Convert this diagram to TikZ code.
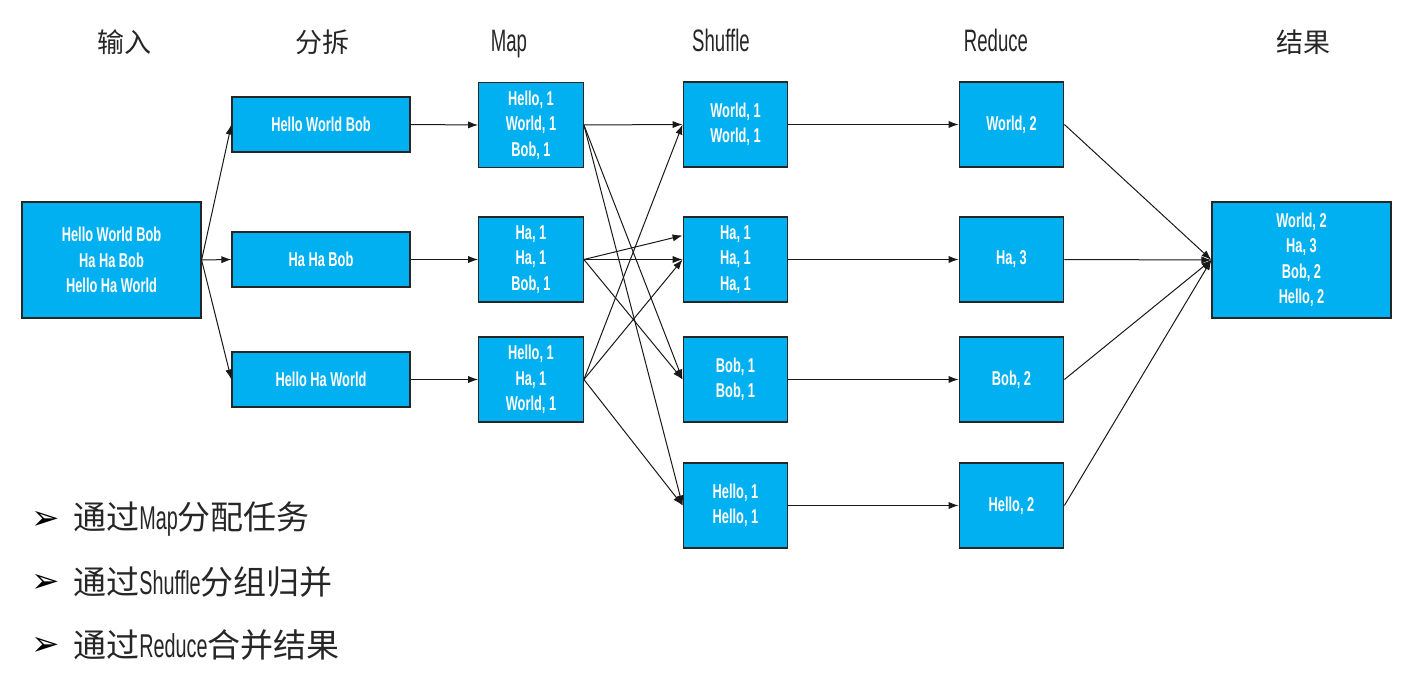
\documentclass[tikz,border=0pt]{standalone}
\usepackage{fontspec}
\setmainfont{Liberation Sans}
\newfontfamily\cjk{Noto Sans CJK SC}
\newfontfamily\condb[FakeStretch=0.64]{Liberation Sans Bold}
\newfontfamily\condl[FakeStretch=0.6]{Liberation Sans}
\newfontfamily\dejavu{DejaVu Sans}
\usetikzlibrary{arrows.meta}
\definecolor{boxblue}{HTML}{00B0F0}
\definecolor{txtgrey}{HTML}{262626}
\tikzset{
  box/.style={draw=black!85, line width=0.6pt, fill=boxblue, text=white, align=center,
    inner sep=0pt, font=\condb\fontsize{10}{12.75}\selectfont},
  inbox/.style={box, minimum width=89.5pt, minimum height=58pt},
  splitbox/.style={box, minimum width=89pt, minimum height=27.5pt},
  smallbox/.style={box, minimum width=52.3pt, minimum height=42.5pt},
  head/.style={anchor=base, font=\condl\fontsize{15.5}{16}\selectfont, text=txtgrey, inner sep=0pt},
  headcn/.style={anchor=base, font=\cjk\fontsize{13.5}{16}\selectfont, text=txtgrey, inner sep=0pt},
  conn/.style={draw=black!90, line width=0.5pt, -{Latex[length=5pt,width=3.6pt]}},
  bullet/.style={anchor=west, inner sep=0pt, text=txtgrey, font=\fontsize{16.5}{18}\selectfont},
  bmark/.style={inner sep=0pt, font=\dejavu\fontsize{17}{18}\selectfont}
}
\begin{document}
\begin{tikzpicture}[x=0.5pt,y=-0.5pt]
\useasboundingbox (0,0) rectangle (1409,673);
% headers
\node[headcn] (h1) at (124,53) {输入};
\node[headcn] (h2) at (322,53) {分拆};
\node[head] (h3) at (509,52) {Map};
\node[head] (h4) at (721,52) {Shuffle};
\node[head] (h5) at (996,52) {Reduce};
\node[headcn] (h6) at (1303,53) {结果};
% input
\node[inbox] (in) at (111.5,260) {Hello World Bob\\Ha Ha Bob\\Hello Ha World};
% split
\node[splitbox] (s1) at (321,124.5) {Hello World Bob};
\node[splitbox] (s2) at (321,259.5) {Ha Ha Bob};
\node[splitbox] (s3) at (321,379.5) {Hello Ha World};
% map
\node[smallbox] (m1) at (531,125) {Hello, 1\\World, 1\\Bob, 1};
\node[smallbox] (m2) at (531,259.5) {Ha, 1\\Ha, 1\\Bob, 1};
\node[smallbox] (m3) at (531,379.5) {Hello, 1\\Ha, 1\\World, 1};
% shuffle
\node[smallbox] (sh1) at (735.5,124.5) {World, 1\\World, 1};
\node[smallbox] (sh2) at (735.5,259.5) {Ha, 1\\Ha, 1\\Ha, 1};
\node[smallbox] (sh3) at (735.5,379.5) {Bob, 1\\Bob, 1};
\node[smallbox] (sh4) at (735.5,505.5) {Hello, 1\\Hello, 1};
% reduce
\node[smallbox] (r1) at (1011.5,124.5) {World, 2};
\node[smallbox] (r2) at (1011.5,259.5) {Ha, 3};
\node[smallbox] (r3) at (1011.5,379.5) {Bob, 2};
\node[smallbox] (r4) at (1011.5,505.5) {Hello, 2};
% result
\node[inbox] (res) at (1301.5,260) {World, 2\\Ha, 3\\Bob, 2\\Hello, 2};
% input -> split
\draw[conn] (in.east) -- (s1.west);
\draw[conn] (in.east) -- (s2.west);
\draw[conn] (in.east) -- (s3.west);
% split -> map
\draw[conn] (s1.east) -- (m1.west);
\draw[conn] (s2.east) -- (m2.west);
\draw[conn] (s3.east) -- (m3.west);
% map -> shuffle
\draw[conn] (m1.east) -- (sh1.west);
\draw[conn] (m1.east) -- (sh3.west);
\draw[conn] (m1.east) -- (sh4.west);
\coordinate (sh2up) at ([yshift=12pt]sh2.west);
\draw[conn] (m2.east) -- (sh2up);
\draw[conn] (m2.east) -- (sh2.west);
\draw[conn] (m2.east) -- (sh3.west);
\draw[conn] (m3.east) -- (sh1.west);
\draw[conn] (m3.east) -- (sh2.west);
\draw[conn] (m3.east) -- (sh4.west);
% shuffle -> reduce
\draw[conn] (sh1.east) -- (r1.west);
\draw[conn] (sh2.east) -- (r2.west);
\draw[conn] (sh3.east) -- (r3.west);
\draw[conn] (sh4.east) -- (r4.west);
% reduce -> result
\draw[conn] (r1.east) -- (res.west);
\draw[conn] (r2.east) -- (res.west);
\draw[conn] (r3.east) -- (res.west);
\draw[conn] (r4.east) -- (res.west);
% bullets
\node[bmark] (b1) at (46,520) {➢};
\node[bmark] (b2) at (46,583) {➢};
\node[bmark] (b3) at (46,646) {➢};
\node[bullet] (t1) at (73,519) {\cjk 通过{\condl Map}分配任务};
\node[bullet] (t2) at (73,582) {\cjk 通过{\condl Shuffle}分组归并};
\node[bullet] (t3) at (73,645) {\cjk 通过{\condl Reduce}合并结果};
\end{tikzpicture}
\end{document}
